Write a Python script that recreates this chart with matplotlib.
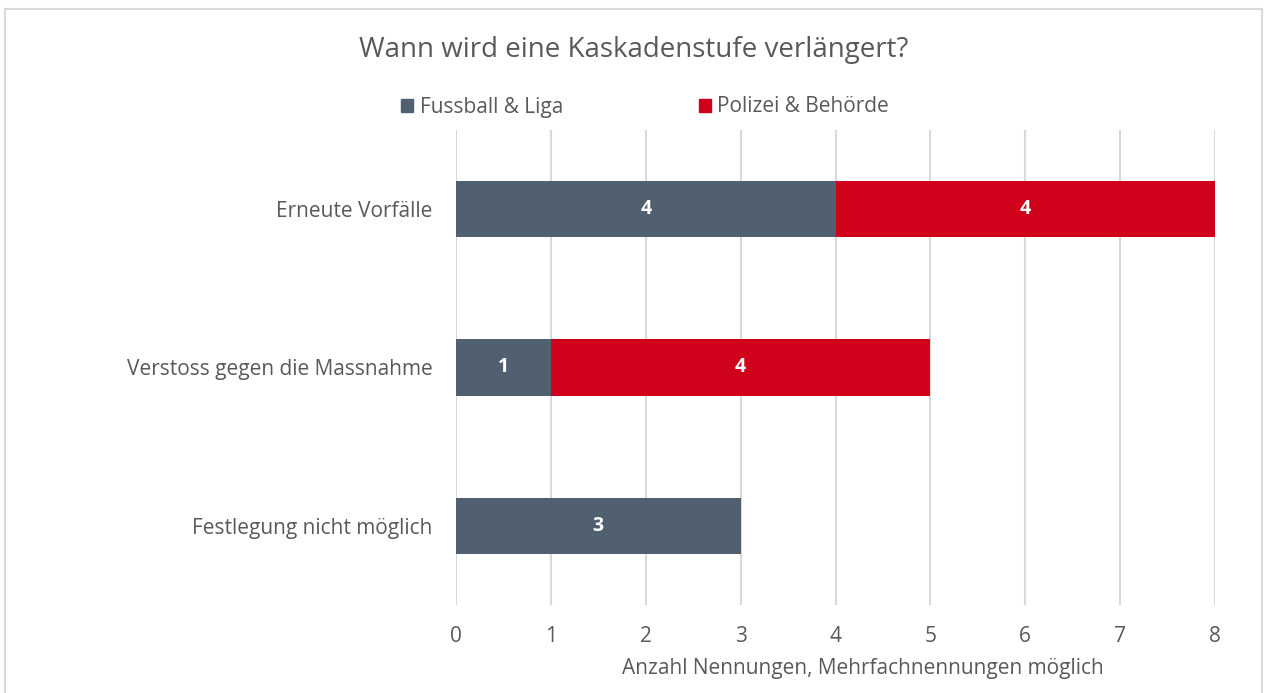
import matplotlib.pyplot as plt
from matplotlib.patches import Patch, Rectangle

plt.rcParams['font.family'] = ['Open Sans', 'DejaVu Sans']

categories = ["Erneute Vorfälle", "Verstoss gegen die Massnahme", "Festlegung nicht möglich"]
fussball = [4, 1, 3]
polizei = [4, 4, 0]
series_names = ["Fussball & Liga", "Polizei & Behörde"]
colors = ["#506070", "#D0021B"]
grey = "#595959"

fig = plt.figure(figsize=(12.67, 6.93), dpi=100)
ax = fig.add_axes([456 / 1267, 1 - 605 / 693, (1215 - 456) / 1267, 475 / 693])

y = range(len(categories))
ax.barh(y, fussball, height=0.355, color=colors[0], zorder=3)
ax.barh(y, polizei, left=fussball, height=0.355, color=colors[1], zorder=3)

for i in y:
    if fussball[i]:
        ax.text(fussball[i] / 2, i, str(fussball[i]), ha='center', va='center',
                color='white', fontsize=14, fontweight='bold', zorder=4)
    if polizei[i]:
        ax.text(fussball[i] + polizei[i] / 2, i, str(polizei[i]), ha='center', va='center',
                color='white', fontsize=14, fontweight='bold', zorder=4)

ax.set_xlim(0, 8)
ax.set_ylim(2.5, -0.5)
ax.set_xticks(range(0, 9))
ax.set_yticks(list(y))
ax.set_yticklabels(categories)
ax.tick_params(length=0, labelsize=15, labelcolor=grey)
ax.tick_params(axis='x', pad=15)
ax.tick_params(axis='y', pad=17)
ax.grid(axis='x', color='#D9D9D9', linewidth=1.5, zorder=0)
for s in ax.spines.values():
    s.set_visible(False)
ax.set_xlabel("Anzahl Nennungen, Mehrfachnennungen möglich", fontsize=15, color=grey)
ax.xaxis.set_label_coords(0.536, -53 / 475, transform=ax.transAxes)

fig.text(634 / 1267, 1 - 50 / 693, "Wann wird eine Kaskadenstufe verlängert?", ha='center', va='center',
         fontsize=20, color=grey)

handles = [Patch(color=c) for c in colors]
fig.legend(handles, series_names, loc='center', bbox_to_anchor=(645 / 1267, 1 - 107 / 693), ncol=2,
           frameon=False, fontsize=15, labelcolor=grey, handlelength=0.6, handleheight=0.6,
           handletextpad=0.3, columnspacing=6.5)

fig.patches.append(Rectangle((5 / 1267, -0.02), 1257 / 1267, 1 - 9 / 693 + 0.02, transform=fig.transFigure,
                             fill=False, edgecolor='#D9D9D9', linewidth=1.5))

fig.savefig("out.png", dpi=100)
